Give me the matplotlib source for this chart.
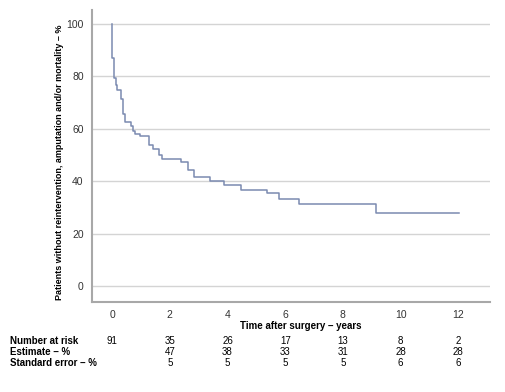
import matplotlib.pyplot as plt
from matplotlib.transforms import blended_transform_factory

plt.rcParams['font.family'] = ['Liberation Sans', 'DejaVu Sans']

# Kaplan-Meier steps
times = [0, 0.01, 0.08, 0.13, 0.18, 0.31, 0.39, 0.45, 0.66, 0.71, 0.78, 0.95,
         1.26, 1.40, 1.64, 1.72, 2.40, 2.63, 2.82, 3.40, 3.89, 4.47, 5.37,
         5.80, 6.48, 9.13, 12.03]
survival = [100, 86.9, 79.3, 76.8, 74.9, 71.3, 65.6, 62.5, 61.1, 59.2, 58.0,
            57.1, 53.9, 52.4, 50.1, 48.6, 47.2, 44.4, 41.5, 40.0, 38.7, 36.8,
            35.5, 33.3, 31.3, 28.1, 28.1]

table_years = [0, 2, 4, 6, 8, 10, 12]
at_risk = ['91', '35', '26', '17', '13', '8', '2']
estimate = ['', '47', '38', '33', '31', '28', '28']
std_err = ['', '5', '5', '5', '5', '6', '6']
row_names = ['Number at risk', 'Estimate \u2013 %', 'Standard error \u2013 %']

fig = plt.figure(figsize=(5.06, 3.92), dpi=100)
ax = fig.add_axes([0.1818, 0.2296, 0.7866, 0.7449])

ax.step(times, survival, where='post', color='#7b8ab0', lw=1.1)

ax.set_xlim(-0.7, 13.1)
ax.set_ylim(-6, 105.3)
ax.set_xticks(range(0, 13, 2))
ax.set_yticks(range(0, 101, 20))
ax.tick_params(length=0, labelsize=7.5, colors='#333333', pad=6)
ax.grid(axis='y', color='#d4d4d4', lw=1)
ax.set_axisbelow(True)
for s in ['top', 'right']:
    ax.spines[s].set_visible(False)
for s in ['left', 'bottom']:
    ax.spines[s].set_color('#a8a8a8')
    ax.spines[s].set_linewidth(1.5)

fig.text(60 / 506, 1 - 162 / 392,
         'Patients without reintervention, amputation and/or mortality \u2013 %',
         rotation=90, ha='center', va='center', fontsize=6.5, fontweight='bold')
fig.text(301 / 506, 1 - 326 / 392, 'Time after surgery \u2013 years',
         ha='center', va='center', fontsize=7, fontweight='bold')

trans = blended_transform_factory(ax.transData, fig.transFigure)
rows = [at_risk, estimate, std_err]
row_y = [340.7, 351.7, 362.7]
for name, vals, py in zip(row_names, rows, row_y):
    yf = 1 - py / 392
    fig.text(10 / 506, yf, name, ha='left', va='center', fontsize=7, fontweight='bold')
    for yr, v in zip(table_years, vals):
        ax.text(yr, yf, v, transform=trans, ha='center', va='center', fontsize=7)

fig.savefig('out.png', dpi=100)
